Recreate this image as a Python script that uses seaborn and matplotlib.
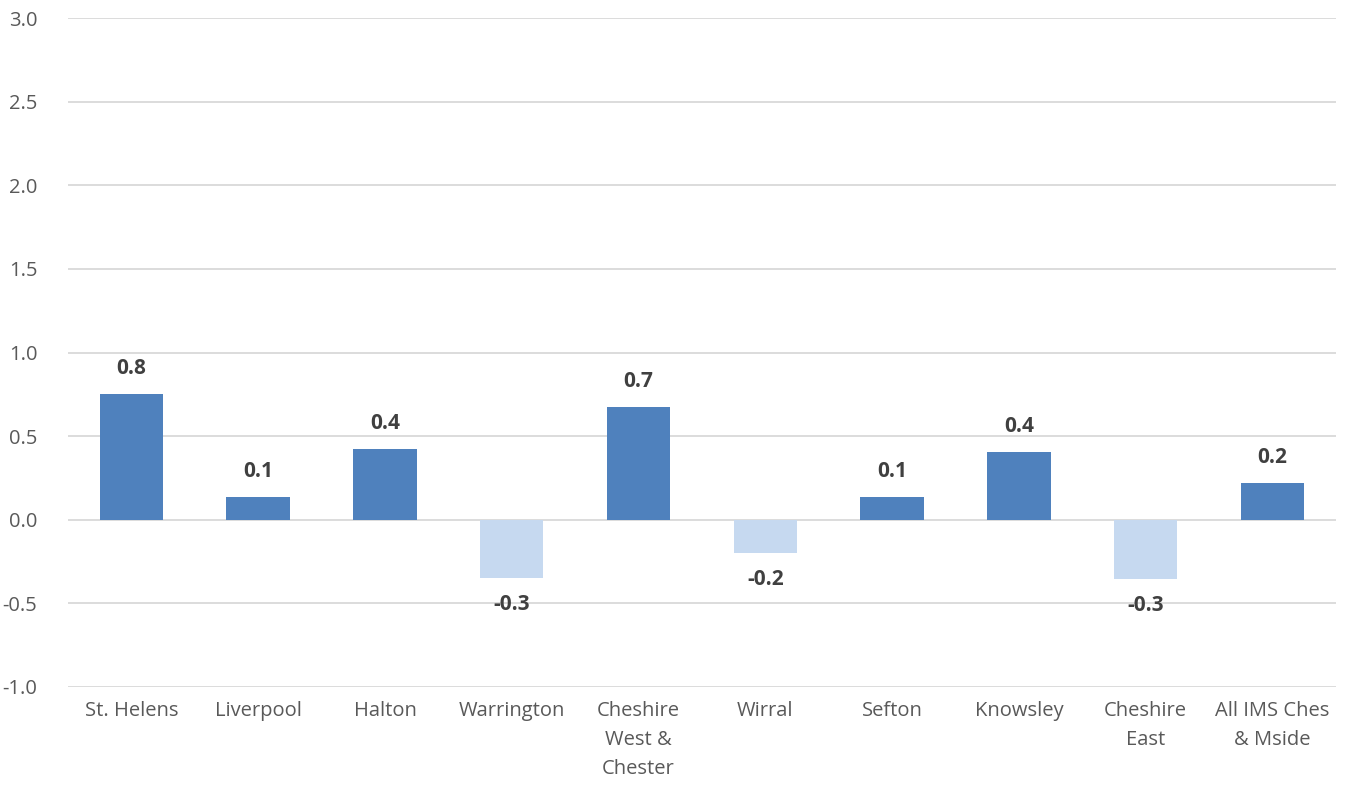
import matplotlib
matplotlib.use("Agg")
import matplotlib.pyplot as plt
import seaborn as sns
import pandas as pd

areas = ["St. Helens", "Liverpool", "Halton", "Warrington", "Cheshire\nWest &\nChester",
         "Wirral", "Sefton", "Knowsley", "Cheshire\nEast", "All IMS Ches\n& Mside"]
values = [0.754, 0.138, 0.425, -0.347, 0.677, -0.198, 0.138, 0.407, -0.353, 0.222]
labels = ["0.8", "0.1", "0.4", "-0.3", "0.7", "-0.2", "0.1", "0.4", "-0.3", "0.2"]
yticks = [-1.0, -0.5, 0.0, 0.5, 1.0, 1.5, 2.0, 2.5, 3.0]

df = pd.DataFrame({"area": areas, "value": values})
df["sign"] = ["pos" if v >= 0 else "neg" for v in values]

sns.set_theme(style="white")
plt.rcParams['font.family'] = ["Open Sans", "DejaVu Sans"]

fig = plt.figure(figsize=(13.46, 7.90), dpi=100)
ax = fig.add_axes([0.0505, 0.1304, 0.942, 0.8466])
sns.barplot(data=df, x="area", y="value", hue="sign",
            palette={"pos": "#4F81BD", "neg": "#C6D9F0"}, saturation=1,
            dodge=False, width=0.5, legend=False, ax=ax, zorder=3,
            edgecolor="none")

ax.set_ylim(-1.0, 3.0)
ax.set_yticks(yticks)
ax.set_yticklabels([f"{t:.1f}" for t in yticks])
ax.yaxis.grid(True, color="#D9D9D9", linewidth=1.3, zorder=0)
ax.set_axisbelow(True)
for s in ax.spines.values():
    s.set_visible(False)
ax.tick_params(axis="both", length=0, labelsize=14.5, labelcolor="#595959")
ax.tick_params(axis="y", pad=22)
ax.tick_params(axis="x", pad=10)
for t in ax.get_xticklabels():
    t.set_linespacing(1.6)
ax.set_xlabel("")
ax.set_ylabel("")
ax.set_xlim(-0.5, len(areas) - 0.5)

for i, (v, lab) in enumerate(zip(values, labels)):
    off = 0.15 if v >= 0 else -0.16
    ax.text(i, v + off, lab, ha="center", va="center", fontsize=15,
            fontweight="bold", color="#404040")

fig.savefig("out.png", dpi=100)
